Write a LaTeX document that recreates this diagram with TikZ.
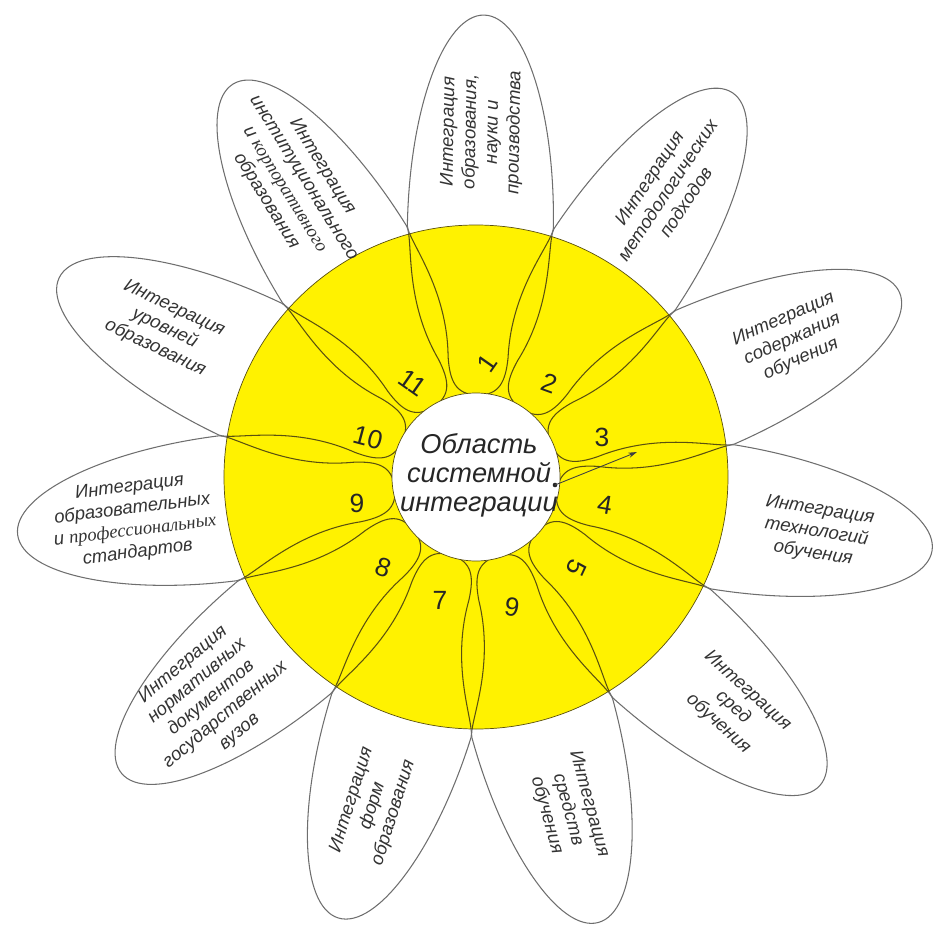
\documentclass[tikz,border=0pt]{standalone}
\usepackage{fontspec}
\setmainfont{Liberation Sans}
\newfontfamily\serifit{Liberation Serif}
\usetikzlibrary{arrows.meta}

\definecolor{petalyellow}{RGB}{255,242,0}
\definecolor{petalline}{RGB}{110,110,110}
\definecolor{innerline}{RGB}{90,80,15}

\tikzset{
  petal/.pic={\path[pic actions] (82,0) .. controls (82,22) and (96,28) .. (120,30)
    .. controls (190,32) and (235,72) .. (250,73)
    .. controls (367,73) and (462,40) .. (462,0)
    .. controls (462,-40) and (367,-73) .. (250,-73)
    .. controls (235,-72) and (190,-32) .. (120,-30)
    .. controls (96,-28) and (82,-22) .. (82,0) -- cycle;},
  petaltext/.style={align=center,font=\fontsize{10.5}{12.5}\selectfont\itshape,text=black!80},
  numtext/.style={font=\fontsize{15}{15}\selectfont,text=black!85}
}

\begin{document}
\begin{tikzpicture}[x=0.2mm,y=0.2mm]
\useasboundingbox (-476,-459) rectangle (459,477);
% outer petals
\foreach \k in {0,...,10}
  \pic[draw=petalline,line width=0.6pt,rotate={89-\k*32.727}] {petal};
% yellow ring
\fill[petalyellow,draw=innerline,line width=0.4pt] (0,0) circle (252);
\begin{scope}
\clip (0,0) circle (252);
\foreach \k in {0,...,10}
  \pic[draw=innerline,line width=0.6pt,rotate={89-\k*32.727}] {petal};
\end{scope}
\node[circle,fill=white,draw=innerline,line width=0.4pt,minimum size=33.6mm,inner sep=0pt] (centre) at (0,0) {};
\node[align=center,font=\fontsize{15.5}{16.5}\selectfont\itshape,text=black!85] (label) at (3,2) {Область\\системной\\интеграции};
% arrow
\coordinate (dot) at (79,-8);
\coordinate (tip) at (161,25);
\fill[black!85] (dot) circle (1.3pt);
\draw[black!75,line width=0.5pt,-{Stealth[length=5pt,width=3pt]}] (dot) -- (tip);
% numbers
\foreach \k/\x/\y/\r in {1/11/114/55,2/74/94/-20,3/126/40/0,4/129/-28/-10,5/101/-91/-115,6/36/-130/170,7/-36/-123/0,8/-93/-90/-20,9/-119/-26/0,10/-108/39/-15,11/-63/94/-35}
  \node[numtext,rotate=\r] (n\k) at (\x,\y) {\k};
% petal texts
\foreach \k/\a/\r/\txt in {
  1/89/89/{Интеграция\\образования,\\науки и\\производства},
  2/56.3/56.3/{Интеграция\\методологических\\подходов},
  3/23.5/23.5/{Интеграция\\содержания\\обучения},
  4/-9.2/-9.2/{Интеграция\\технологий\\обучения},
  5/-41.9/-41.9/{Интеграция\\сред\\обучения},
  6/-74.6/-74.6/{Интеграция\\средств\\обучения},
  7/-107.4/72.6/{Интеграция\\форм\\образования},
  8/-140.1/39.9/{Интеграция\\нормативных\\документов\\государственных\\вузов},
  9/-172.8/7.2/{Интеграция\\образовательных\\и {\serifit\itshape профессиональных}\\стандартов},
  10/154.5/-25.5/{Интеграция\\уровней\\образования},
  11/121.8/-58.2/{Интеграция\\институционального\\и {\serifit\itshape корпоративного}\\образования}}
  \node[petaltext,rotate=\r] (t\k) at (\a:345) {\txt};
\end{tikzpicture}
\end{document}
